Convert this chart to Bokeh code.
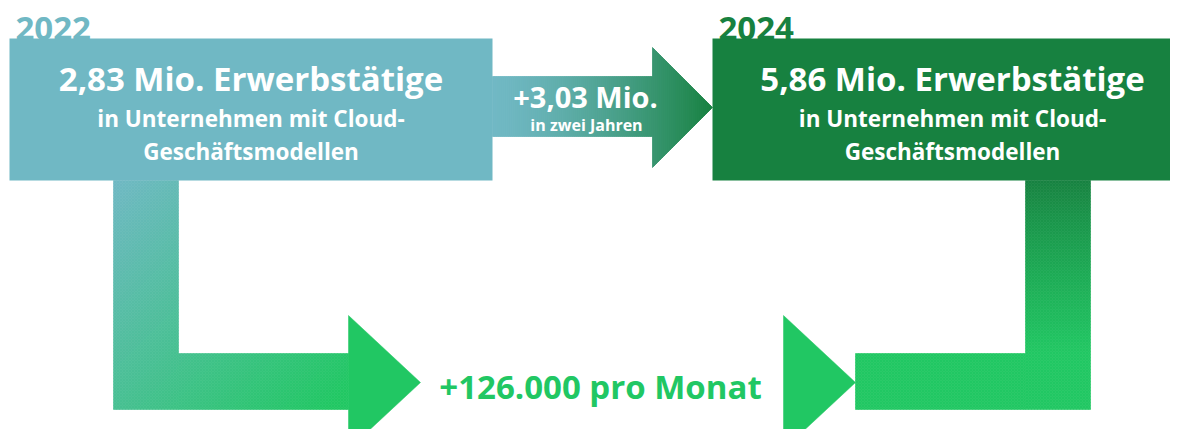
import numpy as np
from bokeh.plotting import figure
from bokeh.models import Range1d
from bokeh.embed import file_html
from bokeh.resources import INLINE
from bokeh.core.properties import value

# ---- data ----
years = ["2022", "2024"]
employees_mio = [2.83, 5.86]
growth_mio = 3.03
growth_label = "in zwei Jahren"
monthly_growth = 126000
subtitle_lines = ["in Unternehmen mit Cloud-", "Geschäftsmodellen"]

# ---- styles ----
TEAL = "#70B8C4"
DARK = "#178140"
BRIGHT = "#21C763"
FONT = value("Open Sans")
DY = -9  # text baseline correction


def hex2rgb(h):
    h = h.lstrip("#")
    return np.array([int(h[i:i + 2], 16) for i in (0, 2, 4)], dtype=float)


def lerp(c1, c2, t):
    t = float(np.clip(t, 0, 1))
    c = hex2rgb(c1) * (1 - t) + hex2rgb(c2) * t
    return "#%02x%02x%02x" % tuple(int(round(v)) for v in c)


def fmt_mio(v):
    return f"{v:.2f}".replace(".", ",")


p = figure(width=1170, height=429, x_range=Range1d(0, 1170), y_range=Range1d(429, 0),
           output_backend="svg", toolbar_location=None, min_border=0)
p.xaxis.visible = False
p.yaxis.visible = False
p.xgrid.visible = False
p.ygrid.visible = False
p.outline_line_color = None
p.background_fill_color = "white"
p.border_fill_color = "white"

# ---- year labels (partly covered by the boxes) ----
year_x = [15, 718]
year_col = [TEAL, DARK]
for yx, yr, col in zip(year_x, years, year_col):
    p.text(x=[yx], y=[37 + DY], text=[yr], text_font=FONT, text_font_style="bold",
           text_font_size="33px", text_color=col, text_align="left",
           text_baseline="alphabetic")

# ---- top arrow (horizontal gradient teal -> dark green) ----
xs, ys, cols = [], [], []
x0, xh, xt = 492.0, 652.0, 712.0
sy0, sy1 = 76.0, 136.0
hy0, hy1, tipy = 47.0, 166.0, 107.0


def head_half(x):
    return (tipy - hy0) * (xt - x) / (xt - xh)


step = 2.0
x = x0
while x < xt:
    xa, xb = x, min(x + step, xt)
    t = ((xa + xb) / 2 - x0) / (xt - x0)
    col = lerp(TEAL, DARK, t ** 1.4)
    if xb <= xh:
        xs.append([xa, xb, xb, xa]); ys.append([sy0, sy0, sy1, sy1])
    else:
        ha, hb = head_half(xa), head_half(xb)
        xs.append([xa, xb, xb, xa]); ys.append([tipy - ha, tipy - hb, tipy + hb, tipy + ha])
    cols.append(col)
    x += step
p.patches(xs=xs, ys=ys, fill_color=cols, line_color=cols, line_width=0.8)

# ---- left L arrow (diagonal gradient teal -> bright green) ----
lx0, lx1 = 113.0, 178.0
ly0, ly1 = 180.0, 409.0
hy_top = 353.0
hx1 = 348.0
cell = 3.0
q_l, q_r, q_t, q_b, q_c = [], [], [], [], []


def diag_t(cx, cy):
    return ((cx - lx0) + (cy - ly0)) / ((hx1 - lx0) + (ly1 - ly0))


def add_cells(xa, xb, ya, yb, fn):
    for cx in np.arange(xa, xb, cell):
        for cy in np.arange(ya, yb, cell):
            r = min(cx + cell, xb); b = min(cy + cell, yb)
            q_l.append(cx); q_r.append(r); q_t.append(cy); q_b.append(b)
            q_c.append(fn((cx + r) / 2, (cy + b) / 2))


left_col = lambda cx, cy: lerp(TEAL, BRIGHT, diag_t(cx, cy) * 1.05)
add_cells(lx0, lx1, ly0, ly1, left_col)
add_cells(lx1, hx1, hy_top, ly1, left_col)

# ---- right L arrow (vertical gradient dark -> bright) ----
rx0, rx1 = 1025.0, 1090.0
rhx0 = 855.0
right_col = lambda cx, cy: lerp(DARK, BRIGHT, ((cy - ly0) / (hy_top - ly0)) ** 0.85)
add_cells(rx0, rx1, ly0, ly1, right_col)
add_cells(rhx0, rx0, hy_top, ly1, right_col)
p.quad(left=q_l, right=q_r, top=q_t, bottom=q_b, fill_color=q_c, line_color=q_c, line_width=0.6)

# ---- arrow heads ----
p.patch(x=[348, 420, 348], y=[315, 382, 449], fill_color=BRIGHT, line_color=BRIGHT, line_width=0.5)
p.patch(x=[783, 855, 783], y=[315, 382, 449], fill_color=BRIGHT, line_color=BRIGHT, line_width=0.5)

# ---- boxes ----
box_left = [9, 712]
box_right = [492, 1186]
box_col = [TEAL, DARK]
p.quad(left=box_left, right=box_right, top=[38, 38], bottom=[180, 180],
       fill_color=box_col, line_color=None)

# ---- box texts ----
centers = [250.5, 952.0]
for cx, v in zip(centers, employees_mio):
    p.text(x=[cx], y=[87 + DY], text=[f"{fmt_mio(v)} Mio. Erwerbstätige"], text_font=FONT,
           text_font_style="bold", text_font_size="33px", text_color="white",
           text_align="center", text_baseline="alphabetic")
    p.text(x=[cx, cx], y=[127 + DY, 160 + DY], text=subtitle_lines, text_font=FONT,
           text_font_style="bold", text_font_size="22.5px", text_color="white",
           text_align="center", text_baseline="alphabetic")

# ---- top arrow texts ----
p.text(x=[585], y=[105 + DY], text=[f"+{fmt_mio(growth_mio)} Mio."], text_font=FONT,
       text_font_style="bold", text_font_size="29px", text_color="white",
       text_align="center", text_baseline="alphabetic")
p.text(x=[586], y=[133 + DY], text=[growth_label], text_font=FONT,
       text_font_style="bold", text_font_size="16px", text_color="white",
       text_align="center", text_baseline="alphabetic")

# ---- bottom text ----
p.text(x=[600], y=[395 + DY], text=[f"+{monthly_growth:,} pro Monat".replace(",", ".")],
       text_font=FONT, text_font_style="bold", text_font_size="33px", text_color=BRIGHT,
       text_align="center", text_baseline="alphabetic")

open("out.html", "w").write(file_html(p, INLINE))
